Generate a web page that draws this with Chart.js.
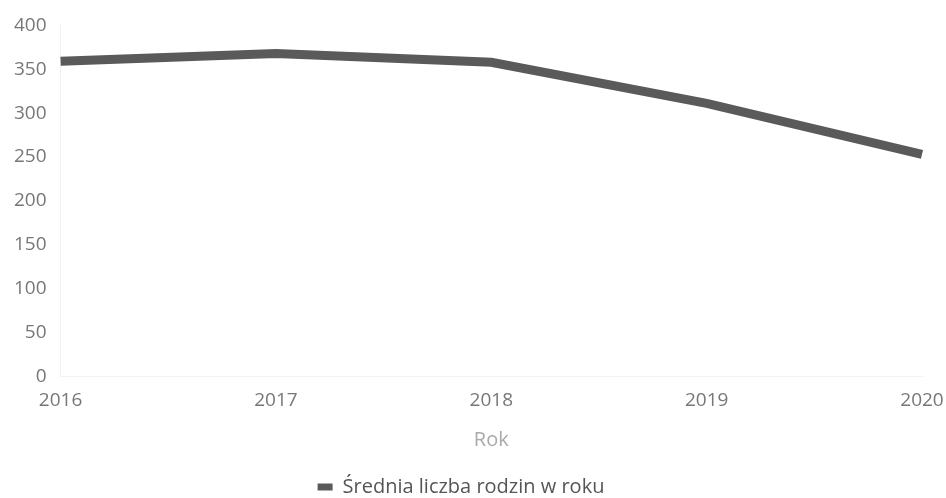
<!DOCTYPE html>
<html>
<head>
<meta charset="utf-8">
<script src="https://cdn.jsdelivr.net/npm/chart.js@4"></script>
<style>
  html, body { margin: 0; padding: 0; background: #fff; }
  #wrap { width: 946px; height: 498px; }
</style>
</head>
<body>
<div id="wrap"><canvas id="chart"></canvas></div>
<script>
// data
const years = ['2016', '2017', '2018', '2019', '2020'];
const families = [359, 368, 358, 311, 253];
const seriesName = 'Średnia liczba rodzin w roku';

Chart.defaults.font.family = '"Open Sans", "Noto Sans", sans-serif';
Chart.defaults.color = '#777';

const myChart = new Chart(document.getElementById('chart'), {
  type: 'line',
  data: {
    labels: years,
    datasets: [{
      label: seriesName,
      data: families,
      borderColor: '#5a5a5a',
      backgroundColor: '#5a5a5a',
      borderWidth: 9,
      pointRadius: 0,
      tension: 0,
    }],
  },
  options: {
    responsive: true,
    maintainAspectRatio: false,
    animation: false,
    layout: { padding: { top: 12, right: 24, left: 0, bottom: -9 } },
    scales: {
      x: {
        offset: false,
        grid: { display: false, drawTicks: false },
        border: { color: '#f2f2f2' },
        ticks: { font: { size: 19 }, color: '#777', padding: 13 },
        title: { display: true, text: 'Rok', color: '#aaa', font: { size: 20 }, padding: { top: 3, bottom: 22 } },
        afterFit: function (scale) {
          // keep the plot close to the right edge like the original
          scale.paddingRight = 24;
        },
      },
      y: {
        min: 0,
        max: 400,
        ticks: { stepSize: 50, font: { size: 19 }, color: '#777', padding: 14 },
        grid: { display: false, drawTicks: false },
        border: { color: '#f2f2f2' },
      },
    },
    plugins: {
      legend: {
        position: 'bottom',
        labels: {
          boxWidth: 15,
          boxHeight: 7,
          color: '#555',
          font: { size: 20 },
          padding: 3,
          generateLabels: function (chart) {
            const items = Chart.defaults.plugins.legend.labels.generateLabels(chart);
            items.forEach(item => { item.lineWidth = 0; });
            return items;
          },
        },
      },
      tooltip: { enabled: false },
    },
  },
});
</script>
</body>
</html>
